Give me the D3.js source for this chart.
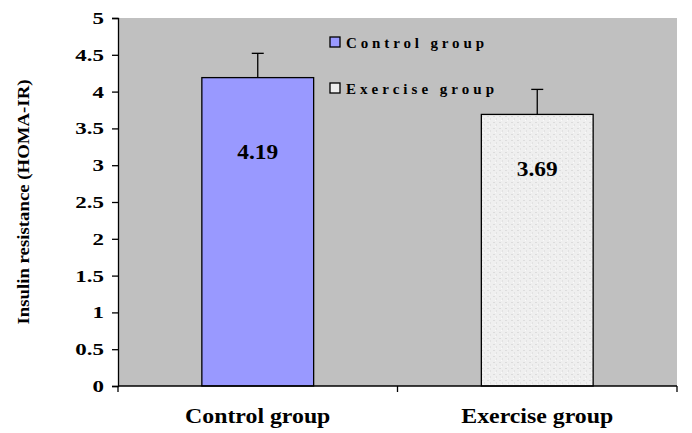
<!DOCTYPE html>
<html>
<head>
<meta charset="utf-8">
<script src="https://cdn.jsdelivr.net/npm/d3@7"></script>
<style>
  body { margin: 0; background: #fff; }
  text { font-family: "Liberation Serif", "Times New Roman", serif; font-weight: bold; }
</style>
</head>
<body>
<div id="chart"></div>
<script>
const groups = ['Control group', 'Exercise group'];
const means = [4.19, 3.69];
const errors = [0.33, 0.34];
const labelAt = [3.14, 2.91];
const colors = ['#9999ff', '#efefef'];
const yTicks = [0, 0.5, 1, 1.5, 2, 2.5, 3, 3.5, 4, 4.5, 5];

const width = 692, height = 433;
const margin = { top: 18, right: 15, bottom: 47, left: 118 };

const svg = d3.select('#chart').append('svg')
    .attr('width', width)
    .attr('height', height);

// stretch text horizontally (the original uses a wide bold serif)
function widen(sel, factor) {
    sel.each(function () {
        const len = this.getComputedTextLength();
        d3.select(this)
            .attr('textLength', len * factor)
            .attr('lengthAdjust', 'spacingAndGlyphs');
    });
}

// light speckle texture for the exercise bar
const defs = svg.append('defs');
const pat = defs.append('pattern')
    .attr('id', 'speckle')
    .attr('width', 6).attr('height', 6)
    .attr('patternUnits', 'userSpaceOnUse');
pat.append('rect').attr('width', 6).attr('height', 6).attr('fill', colors[1]);
pat.append('rect').attr('x', 1).attr('y', 2).attr('width', 2).attr('height', 1).attr('fill', '#dcdcdc');
pat.append('rect').attr('x', 4).attr('y', 4).attr('width', 1).attr('height', 2).attr('fill', '#e2e2e2');
pat.append('rect').attr('x', 3).attr('y', 0).attr('width', 1).attr('height', 1).attr('fill', '#fafafa');

const x = d3.scaleBand()
    .domain(groups)
    .range([margin.left, width - margin.right])
    .paddingInner(0.6)
    .paddingOuter(0.3);

const y = d3.scaleLinear()
    .domain([0, 5])
    .range([height - margin.bottom, margin.top]);

// plot area
svg.append('rect')
    .attr('x', margin.left)
    .attr('y', margin.top)
    .attr('width', width - margin.left - margin.right)
    .attr('height', height - margin.top - margin.bottom)
    .attr('fill', '#c0c0c0');

// bars
svg.selectAll('.bar')
    .data(groups)
    .join('rect')
    .attr('class', 'bar')
    .attr('x', d => x(d))
    .attr('y', (d, i) => y(means[i]))
    .attr('width', x.bandwidth())
    .attr('height', (d, i) => y(0) - y(means[i]))
    .attr('fill', (d, i) => i === 1 ? 'url(#speckle)' : colors[i])
    .attr('stroke', '#000')
    .attr('stroke-width', 1.3);

// error bars
const eb = svg.selectAll('.err')
    .data(groups)
    .join('g')
    .attr('class', 'err')
    .attr('stroke', '#000')
    .attr('stroke-width', 1.3);
eb.append('line')
    .attr('x1', d => x(d) + x.bandwidth() / 2)
    .attr('x2', d => x(d) + x.bandwidth() / 2)
    .attr('y1', (d, i) => y(means[i]))
    .attr('y2', (d, i) => y(means[i] + errors[i]));
eb.append('line')
    .attr('x1', d => x(d) + x.bandwidth() / 2 - 6)
    .attr('x2', d => x(d) + x.bandwidth() / 2 + 6)
    .attr('y1', (d, i) => y(means[i] + errors[i]))
    .attr('y2', (d, i) => y(means[i] + errors[i]));

// value labels
svg.selectAll('.val')
    .data(groups)
    .join('text')
    .attr('class', 'val')
    .attr('x', d => x(d) + x.bandwidth() / 2)
    .attr('y', (d, i) => y(labelAt[i]))
    .attr('text-anchor', 'middle')
    .attr('dominant-baseline', 'middle')
    .attr('font-size', 20)
    .text((d, i) => means[i].toFixed(2))
    .call(widen, 1.17);

// y axis
const yAxis = svg.append('g')
    .attr('transform', `translate(${margin.left},0)`)
    .call(d3.axisLeft(y).tickValues(yTicks).tickSize(6).tickPadding(8).tickFormat(d3.format('')));
yAxis.selectAll('text').attr('font-size', 17).attr('font-family', null).attr('fill', '#000')
    .call(widen, 1.35);
yAxis.selectAll('path, line').attr('stroke', '#000').attr('stroke-width', 1.3);

// x axis: ticks at band edges
const xAxisG = svg.append('g');
xAxisG.append('line')
    .attr('x1', margin.left).attr('x2', width - margin.right)
    .attr('y1', y(0)).attr('y2', y(0))
    .attr('stroke', '#000').attr('stroke-width', 1.3);
const edges = [margin.left, (margin.left + width - margin.right) / 2, width - margin.right];
xAxisG.selectAll('.xt')
    .data(edges)
    .join('line')
    .attr('x1', d => d).attr('x2', d => d)
    .attr('y1', y(0)).attr('y2', y(0) + 6)
    .attr('stroke', '#000').attr('stroke-width', 1.3);
xAxisG.selectAll('.xl')
    .data(groups)
    .join('text')
    .attr('x', d => x(d) + x.bandwidth() / 2)
    .attr('y', y(0) + 37)
    .attr('text-anchor', 'middle')
    .attr('font-size', 20)
    .text(d => d)
    .call(widen, 1.19);

// y title
svg.append('text')
    .attr('transform', `translate(29,${(margin.top + y(0)) / 2}) rotate(-90)`)
    .attr('text-anchor', 'middle')
    .attr('font-size', 17)
    .text('Insulin resistance (HOMA-IR)')
    .attr('textLength', 245)
    .attr('lengthAdjust', 'spacingAndGlyphs');

// legend
const legend = svg.append('g').attr('transform', 'translate(330,37)');
const li = legend.selectAll('g')
    .data(groups)
    .join('g')
    .attr('transform', (d, i) => `translate(0,${i * 46})`);
li.append('rect')
    .attr('width', 10).attr('height', 10)
    .attr('fill', (d, i) => colors[i])
    .attr('stroke', '#000').attr('stroke-width', 1.3);
li.append('text')
    .attr('x', 16).attr('y', 11)
    .attr('font-size', 15)
    .text(d => d)
    .attr('textLength', (d, i) => [138, 148][i])
    .attr('lengthAdjust', 'spacing');
</script>
</body>
</html>
